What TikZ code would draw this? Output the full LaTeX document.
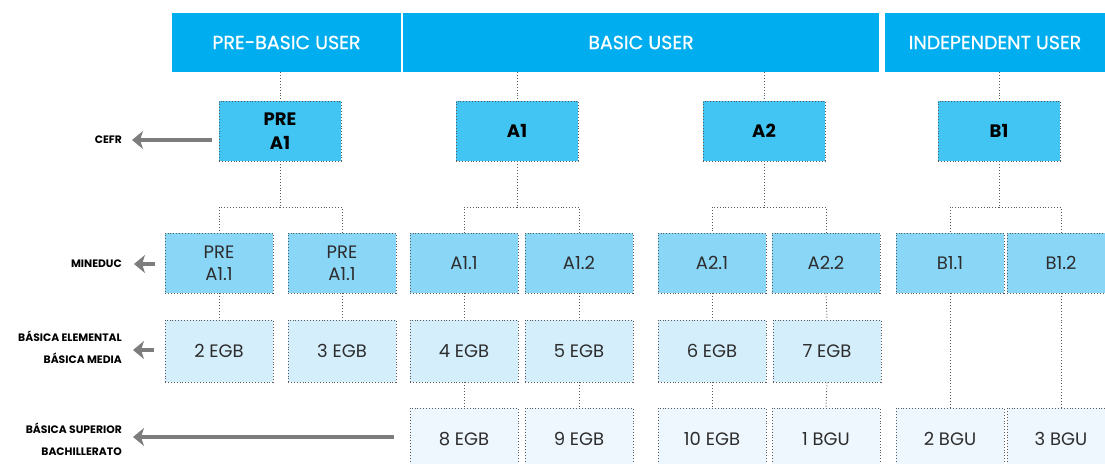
\documentclass[tikz,border=0pt]{standalone}
\usepackage{fontspec}
\setmainfont{Poppins}
\newfontfamily\hdrfont{Poppins}[FakeBold=0.7]
\usetikzlibrary{arrows.meta}
\definecolor{hdrblue}{RGB}{0,174,239}
\definecolor{lvone}{RGB}{66,197,243}
\definecolor{lvtwo}{RGB}{138,214,247}
\definecolor{lvthree}{RGB}{212,238,251}
\definecolor{lvfour}{RGB}{238,246,254}
\definecolor{dotgray}{RGB}{90,90,90}
\definecolor{arrgray}{RGB}{125,125,125}
\definecolor{txtgray}{RGB}{45,45,45}
\tikzset{
  hdr/.style={fill=hdrblue, draw=none, text=white, inner sep=0pt, minimum height=59pt, font=\hdrfont\fontsize{19}{22}\selectfont},
  boxbase/.style={draw=dotgray, dotted, line width=0.9pt, inner sep=0pt, align=center},
  lone/.style={boxbase, fill=lvone, minimum width=122pt, minimum height=60pt, font=\fontsize{18}{24}\selectfont\bfseries, text=black},
  ltwo/.style={boxbase, fill=lvtwo, minimum width=108pt, minimum height=60pt, font=\fontsize{18}{22}\selectfont, text=txtgray},
  lthree/.style={boxbase, fill=lvthree, minimum width=108pt, minimum height=62pt, font=\fontsize{18}{22}\selectfont, text=txtgray},
  lfour/.style={boxbase, fill=lvfour, minimum width=108pt, minimum height=62pt, font=\fontsize{18}{22}\selectfont, text=txtgray},
  conn/.style={draw=dotgray, dotted, line width=0.9pt},
  lab/.style={anchor=east, inner sep=0pt, align=right, font=\fontsize{10.8}{22}\selectfont\bfseries, text=black},
  arr/.style={draw=arrgray, line width=3.3pt, -{Stealth[width=18pt,length=11pt,inset=3pt]}},
}
\begin{document}
\begin{tikzpicture}[x=1pt,y=-1pt]
\useasboundingbox (0,0) rectangle (1105,463);
\clip (0,0) rectangle (1105,463);
% headers
\node[hdr, minimum width=229pt] (hpre) at (286.5,42.5) {PRE-BASIC USER};
\node[hdr, minimum width=476pt] (hbas) at (641,42.5) {BASIC USER};
\node[hdr, minimum width=220pt] (hind) at (995,42.5) {INDEPENDENT USER};
% level 1
\node[lone] (pre) at (280,131) {PRE\\A1};
\node[lone] (aone) at (517,131) {A1};
\node[lone] (atwo) at (764,131) {A2};
\node[lone] (bone) at (999,131) {B1};
% level 2
\node[ltwo] (p1) at (219,263) {PRE\\A1.1};
\node[ltwo] (p2) at (342,263) {PRE\\A1.1};
\node[ltwo] (a11) at (464,263) {A1.1};
\node[ltwo] (a12) at (579,263) {A1.2};
\node[ltwo] (a21) at (712,263) {A2.1};
\node[ltwo] (a22) at (826,263) {A2.2};
\node[ltwo] (b11) at (950,263) {B1.1};
\node[ltwo] (b12) at (1061,263) {B1.2};
% level 3
\node[lthree] (g2) at (219,351) {2 EGB};
\node[lthree] (g3) at (342,351) {3 EGB};
\node[lthree] (g4) at (464,351) {4 EGB};
\node[lthree] (g5) at (579,351) {5 EGB};
\node[lthree] (g6) at (712,351) {6 EGB};
\node[lthree] (g7) at (827,351) {7 EGB};
% level 4
\node[lfour] (g8) at (464,439) {8 EGB};
\node[lfour] (g9) at (579,439) {9 EGB};
\node[lfour] (g10) at (712,439) {10 EGB};
\node[lfour] (u1) at (826,439) {1 BGU};
\node[lfour] (u2) at (950,439) {2 BGU};
\node[lfour] (u3) at (1061,439) {3 BGU};
% header to level 1
\draw[conn] (hpre.south -| pre.north) -- (pre.north);
\draw[conn] (hbas.south -| aone.north) -- (aone.north);
\draw[conn] (hbas.south -| atwo.north) -- (atwo.north);
\draw[conn] (hind.south -| bone.north) -- (bone.north);
% branches
\coordinate (brpre) at (pre.south |- 0,207);
\coordinate (brao) at (aone.south |- 0,207);
\coordinate (brat) at (atwo.south |- 0,207);
\coordinate (brbo) at (bone.south |- 0,207);
\draw[conn] (pre.south) -- (brpre);
\draw[conn] (brpre) -| (p1.north);
\draw[conn] (brpre) -| (p2.north);
\draw[conn] (aone.south) -- (brao);
\draw[conn] (brao) -| (a11.north);
\draw[conn] (brao) -| (a12.north);
\draw[conn] (atwo.south) -- (brat);
\draw[conn] (brat) -| (a21.north);
\draw[conn] (brat) -| (a22.north);
\draw[conn] (bone.south) -- (brbo);
\draw[conn] (brbo) -| (b11.north);
\draw[conn] (brbo) -| (b12.north);
% level 2 to 3/4
\draw[conn] (p1.south) -- (g2.north);
\draw[conn] (p2.south) -- (g3.north);
\draw[conn] (a11.south) -- (g4.north);
\draw[conn] (a12.south) -- (g5.north);
\draw[conn] (a21.south) -- (g6.north);
\draw[conn] (a22.south) -- (g7.north);
\draw[conn] (g4.south) -- (g8.north);
\draw[conn] (g5.south) -- (g9.north);
\draw[conn] (g6.south) -- (g10.north);
\draw[conn] (g7.south) -- (u1.north);
\draw[conn] (b11.south) -- (u2.north);
\draw[conn] (b12.south) -- (u3.north);
% side labels
\node[lab] (lcefr) at (122,140) {CEFR};
\node[lab] (lmin) at (122,264) {MINEDUC};
\node[lab] (lbem) at (122,347) {BÁSICA ELEMENTAL\\BÁSICA MEDIA};
\node[lab] (lbsb) at (122,439) {BÁSICA SUPERIOR\\BACHILLERATO};
\coordinate (scefr) at (212,140);
\coordinate (ecefr) at (132,140);
\coordinate (smin) at (155,264);
\coordinate (emin) at (134,264);
\coordinate (sbem) at (154,350);
\coordinate (ebem) at (133,350);
\coordinate (sbsb) at (394,437);
\coordinate (ebsb) at (133,437);
\draw[arr] (scefr) -- (ecefr);
\draw[arr] (smin) -- (emin);
\draw[arr] (sbem) -- (ebem);
\draw[arr] (sbsb) -- (ebsb);
\end{tikzpicture}
\end{document}
